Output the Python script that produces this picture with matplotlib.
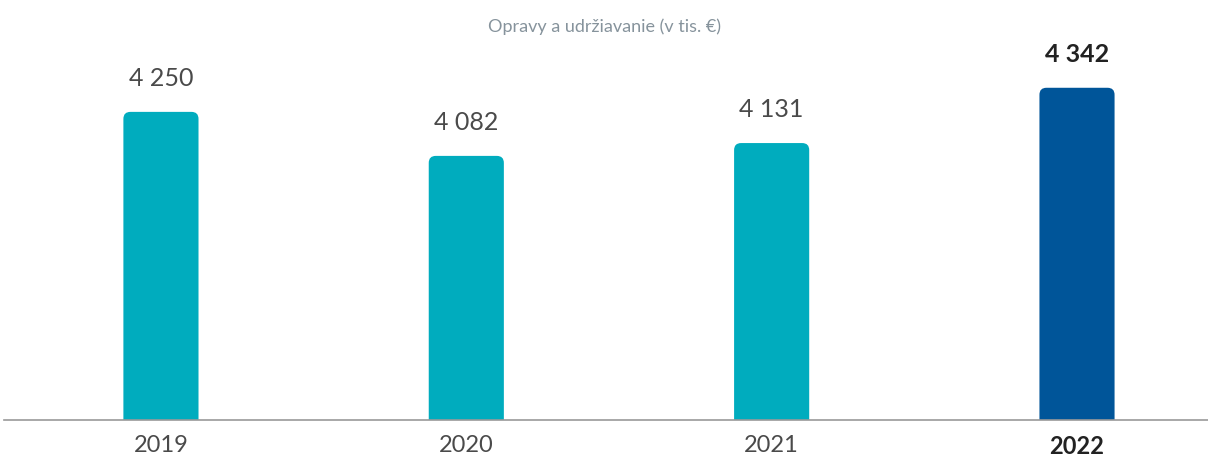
import matplotlib.pyplot as plt
from matplotlib.patches import FancyBboxPatch

years = ["2019", "2020", "2021", "2022"]
values = [4250, 4082, 4131, 4342]
labels = ["4 250", "4 082", "4 131", "4 342"]
colors = ["#00acbe", "#00acbe", "#00acbe", "#005599"]

plt.rcParams['font.family'] = ['Lato', 'DejaVu Sans']

fig = plt.figure(figsize=(12.08, 4.57), dpi=100)
ax = fig.add_axes([4 / 1208, 37 / 457, 1 - 4 / 1208, 420 / 457])

ymin, ymax = 3074, 4677
x0, x1 = -0.514, 3.429
ax.set_xlim(x0, x1)
ax.set_ylim(ymin, ymax)

w = 0.246
xs = range(len(years))
# px -> data scale, for rounded top corners
px_x = (x1 - x0) / 1204
px_y = (ymax - ymin) / 420
r = 7 * px_x
for x, v, c in zip(xs, values, colors):
    # bottom corners sit below the axis and get clipped
    p = FancyBboxPatch((x - w / 2, ymin - 60), w, v - ymin + 60,
                       boxstyle=f"round,pad=0,rounding_size={r}",
                       mutation_aspect=px_y / px_x, fc=c, ec="none", zorder=2)
    ax.add_patch(p)

for x, v, lab, yr in zip(xs, values, labels, years):
    bold = yr == "2022"
    ax.annotate(lab, (x, v), xytext=(0, 16), textcoords="offset points",
                ha="center", va="bottom", fontsize=18,
                fontweight="bold" if bold else "normal",
                color="#222222" if bold else "#4a4a4a")

ax.set_xticks(list(xs))
ax.set_xticklabels(years, fontsize=17)
for t, yr in zip(ax.get_xticklabels(), years):
    if yr == "2022":
        t.set_fontweight("bold")
        t.set_color("#222222")
    else:
        t.set_color("#4a4a4a")
ax.tick_params(axis="x", length=0, pad=11)
ax.set_yticks([])
for s in ["top", "left", "right"]:
    ax.spines[s].set_visible(False)
ax.spines["bottom"].set_color("#999999")
ax.spines["bottom"].set_linewidth(1.2)
ax.patch.set_alpha(0)

fig.text(0.5, 1 - 27 / 457, "Opravy a udržiavanie (v tis. €)", ha="center", va="center",
         fontsize=13, color="#86939c")

fig.savefig("out.png", dpi=100)
